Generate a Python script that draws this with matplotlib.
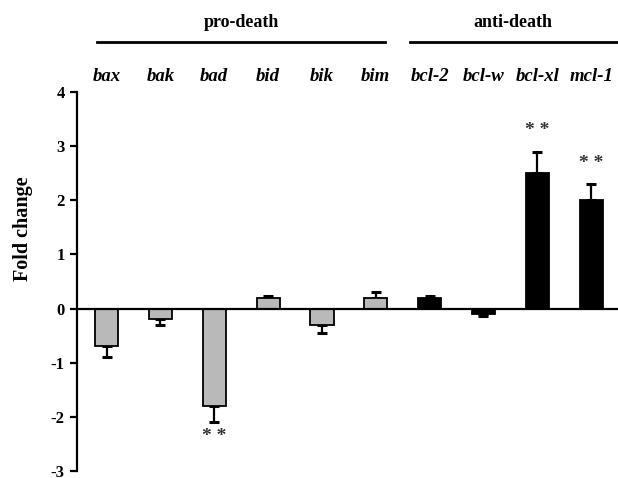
import matplotlib
matplotlib.use("Agg")
import matplotlib.pyplot as plt
import matplotlib.transforms as mtransforms

# data
genes = ["bax", "bak", "bad", "bid", "bik", "bim", "bcl-2", "bcl-w", "bcl-xl", "mcl-1"]
fold_change = [-0.7, -0.2, -1.8, 0.2, -0.3, 0.2, 0.2, -0.1, 2.5, 2.0]
errors = [0.2, 0.1, 0.3, 0.03, 0.15, 0.1, 0.04, 0.04, 0.4, 0.3]
groups = ["pro", "pro", "pro", "pro", "pro", "pro", "anti", "anti", "anti", "anti"]
significant = [False, False, True, False, False, False, False, False, True, True]
yticks = [-3, -2, -1, 0, 1, 2, 3, 4]

plt.rcParams["font.family"] = ["Liberation Serif", "DejaVu Serif"]
plt.rcParams["font.weight"] = "bold"

fig = plt.figure(figsize=(6.18, 4.78), dpi=100)
ax = fig.add_axes([0.1246, 0.0146, 0.8754, 0.793])

x = list(range(len(genes)))
colors = ["#b9b9b9" if g == "pro" else "black" for g in groups]

ax.bar(x, fold_change, width=0.43, color=colors, edgecolor="black", linewidth=1.3, zorder=3)

# one sided error bars
for xi, v, e in zip(x, fold_change, errors):
    if v >= 0:
        ax.errorbar(xi, v, yerr=[[0], [e]], fmt="none", ecolor="black",
                    elinewidth=1.6, capsize=3.5, capthick=2.2, zorder=2)
    else:
        ax.errorbar(xi, v, yerr=[[e], [0]], fmt="none", ecolor="black",
                    elinewidth=1.6, capsize=3.5, capthick=2.2, zorder=2)

# significance marks
for xi, v, e, s in zip(x, fold_change, errors, significant):
    if s:
        if v >= 0:
            ax.text(xi, v + e + 0.38, "* *", ha="center", va="center", fontsize=14, color="#333333")
        else:
            ax.text(xi, v - e - 0.26, "* *", ha="center", va="center", fontsize=14, color="#333333")

ax.axhline(0, color="black", linewidth=1.6, zorder=4)

ax.set_xlim(-0.55, 9.5)
ax.set_ylim(-3, 4)
ax.set_yticks(yticks)
ax.set_yticklabels([str(t) for t in yticks], fontsize=12, fontweight="bold")
ax.set_xticks([])
for side in ["top", "right", "bottom"]:
    ax.spines[side].set_visible(False)
ax.spines["left"].set_linewidth(1.6)
ax.tick_params(axis="y", direction="out", length=5, width=1.6, pad=4)
ax.set_ylabel("Fold change", fontsize=14.5, fontweight="bold")
ax.yaxis.set_label_coords(-0.082, 0.64)

# gene names and group headers above the plot
trans = mtransforms.blended_transform_factory(ax.transData, ax.transAxes)
for xi, g in zip(x, genes):
    ax.text(xi, 1.0396, g, transform=trans, ha="center", va="center",
            fontsize=13.5, fontweight="bold", style="italic")

ax.plot([-0.18, 5.18], [1.1306, 1.1306], transform=trans, color="black", linewidth=2, clip_on=False)
ax.plot([5.63, 9.5], [1.1306, 1.1306], transform=trans, color="black", linewidth=2, clip_on=False)
ax.text(2.5, 1.182, "pro-death", transform=trans, ha="center", va="center", fontsize=13, fontweight="bold")
ax.text(7.55, 1.182, "anti-death", transform=trans, ha="center", va="center", fontsize=13, fontweight="bold")

fig.savefig("out.png", dpi=100)
